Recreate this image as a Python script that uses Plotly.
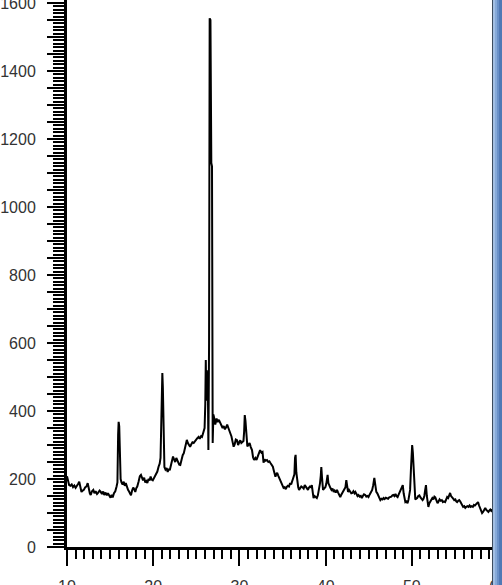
import plotly.graph_objects as go

# XRD pattern, 2-theta (deg) vs counts
two_theta = [
    10.00, 10.10, 10.25, 10.40, 10.55, 10.70, 10.85, 11.00, 11.15, 11.30, 11.42, 11.55, 11.68, 11.82, 11.95,
    12.10, 12.25, 12.40, 12.52, 12.65, 12.75, 12.90, 13.05, 13.18, 13.32, 13.48, 13.62, 13.78, 13.92,
    14.05, 14.20, 14.32, 14.48, 14.62, 14.75, 14.90, 15.05, 15.18, 15.30, 15.45, 15.60, 15.75, 15.85,
    15.93, 15.99, 16.06, 16.14, 16.22, 16.32, 16.45, 16.58, 16.70, 16.82, 16.95, 17.08, 17.20, 17.32,
    17.42, 17.55, 17.68, 17.80, 17.92, 18.05, 18.15, 18.30, 18.45, 18.58, 18.70, 18.82, 18.95, 19.08,
    19.20, 19.32, 19.45, 19.58, 19.70, 19.82, 19.95, 20.10, 20.22, 20.35, 20.48, 20.62, 20.75, 20.85,
    20.93, 21.00, 21.06, 21.12, 21.20, 21.30, 21.42, 21.55, 21.68, 21.80, 21.92, 22.05, 22.18, 22.30,
    22.42, 22.55, 22.68, 22.78, 22.90, 23.02, 23.14, 23.28, 23.42, 23.55, 23.65, 23.78, 23.90, 24.02,
    24.15, 24.28, 24.42, 24.55, 24.70, 24.85, 25.00, 25.12, 25.27, 25.40, 25.55, 25.66, 25.78, 25.88,
    25.96, 26.04, 26.10, 26.16, 26.22, 26.28, 26.34, 26.40, 26.48, 26.55, 26.64, 26.74, 26.82, 26.90,
    26.98, 27.08, 27.20, 27.35, 27.48, 27.62, 27.78, 27.92, 28.05, 28.18, 28.32, 28.45, 28.58, 28.72,
    28.85, 28.96, 29.08, 29.20, 29.33, 29.45, 29.58, 29.72, 29.85, 29.98, 30.10, 30.22, 30.35, 30.47,
    30.55, 30.62, 30.70, 30.80, 30.92, 31.05, 31.18, 31.32, 31.46, 31.58, 31.70, 31.85, 31.98, 32.12,
    32.25, 32.40, 32.55, 32.68, 32.80, 32.92, 33.05, 33.20, 33.35, 33.48, 33.60, 33.75, 33.88, 33.98,
    34.08, 34.18, 34.28, 34.38, 34.50, 34.62, 34.75, 34.88, 35.00, 35.12, 35.25, 35.38, 35.50, 35.62,
    35.75, 35.88, 36.00, 36.12, 36.25, 36.38, 36.45, 36.52, 36.60, 36.70, 36.82, 36.92, 37.05, 37.18,
    37.30, 37.45, 37.58, 37.70, 37.82, 37.95, 38.05, 38.18, 38.30, 38.40, 38.50, 38.60, 38.72, 38.85,
    38.98, 39.10, 39.22, 39.35, 39.44, 39.50, 39.58, 39.70, 39.82, 39.97, 40.08, 40.15, 40.23, 40.32,
    40.45, 40.55, 40.68, 40.80, 40.93, 41.05, 41.18, 41.32, 41.45, 41.58, 41.70, 41.82, 41.95, 42.06,
    42.18, 42.30, 42.40, 42.48, 42.60, 42.72, 42.85, 42.98, 43.10, 43.22, 43.35, 43.45, 43.58, 43.70,
    43.82, 43.95, 44.08, 44.20, 44.32, 44.45, 44.60, 44.72, 44.85, 44.97, 45.10, 45.25, 45.40, 45.52,
    45.65, 45.75, 45.88, 46.00, 46.12, 46.25, 46.35, 46.48, 46.60, 46.72, 46.85, 46.98, 47.12, 47.25,
    47.38, 47.50, 47.62, 47.75, 47.85, 47.98, 48.10, 48.22, 48.35, 48.48, 48.60, 48.72, 48.85, 48.95,
    49.05, 49.15, 49.25, 49.38, 49.50, 49.62, 49.72, 49.80, 49.90, 49.98, 50.04, 50.12, 50.22, 50.32,
    50.40, 50.52, 50.62, 50.75, 50.88, 51.00, 51.12, 51.25, 51.35, 51.45, 51.55, 51.64, 51.74, 51.84,
    51.92, 52.02, 52.12, 52.25, 52.38, 52.50, 52.62, 52.72, 52.85, 52.98, 53.10, 53.22, 53.35, 53.48,
    53.60, 53.72, 53.86, 53.98, 54.10, 54.22, 54.34, 54.44, 54.55, 54.68, 54.80, 54.92, 55.05, 55.15,
    55.25, 55.38, 55.50, 55.62, 55.75, 55.85, 55.95, 56.08, 56.20, 56.32, 56.45, 56.58, 56.70, 56.82,
    56.95, 57.08, 57.20, 57.32, 57.45, 57.55, 57.68, 57.80, 57.92, 58.05, 58.15, 58.28, 58.40, 58.52,
    58.62, 58.75, 58.88, 58.98, 59.10, 59.22, 59.32, 59.45,
]
intensity = [
    208, 196, 182, 180, 184, 176, 181, 174, 179, 186, 192, 172, 162, 166, 168,
    175, 178, 188, 172, 158, 153, 164, 168, 158, 164, 156, 160, 166, 162,
    156, 163, 153, 160, 152, 158, 150, 145, 153, 146, 158, 164, 178, 190,
    330, 368, 355, 260, 200, 190, 184, 192, 180, 188, 175, 168, 163, 156,
    152, 166, 175, 170, 162, 174, 178, 192, 208, 212, 200, 196, 204, 190,
    194, 188, 200, 196, 207, 198, 196, 204, 210, 214, 222, 236, 245, 262,
    360, 490, 512, 470, 300, 235, 228, 232, 221, 230, 226, 240, 252, 266,
    258, 250, 262, 256, 248, 242, 241, 258, 270, 276, 290, 302, 315, 306,
    300, 295, 302, 308, 306, 312, 316, 320, 324, 318, 326, 324, 334, 344,
    350, 420, 550, 430, 520, 440, 480, 285, 600, 1555, 1550, 1130, 1120, 306,
    390, 379, 360, 378, 368, 374, 366, 356, 350, 356, 346, 352, 360, 350,
    340, 338, 325, 310, 295, 302, 316, 314, 300, 308, 314, 306, 310, 312,
    340, 388, 372, 330, 296, 300, 306, 294, 285, 264, 256, 262, 256, 266,
    276, 285, 278, 280, 248, 258, 254, 256, 250, 252, 247, 240, 236, 226,
    215, 207, 214, 218, 210, 204, 197, 188, 180, 174, 176, 170, 177, 180,
    178, 188, 184, 192, 203, 214, 262, 271, 220, 197, 176, 168, 172, 178,
    176, 172, 182, 178, 172, 168, 174, 178, 176, 182, 162, 144, 150, 146,
    144, 152, 168, 188, 210, 235, 205, 168, 172, 176, 186, 200, 212, 188,
    178, 174, 168, 172, 162, 166, 160, 168, 160, 150, 147, 154, 160, 162,
    170, 176, 197, 186, 162, 168, 162, 158, 159, 164, 158, 162, 156, 150,
    153, 148, 150, 144, 150, 155, 153, 148, 150, 147, 154, 160, 168, 182,
    203, 185, 162, 158, 150, 144, 138, 142, 140, 144, 141, 145, 144, 142,
    146, 147, 148, 152, 153, 150, 156, 150, 147, 155, 162, 168, 176, 182,
    158, 135, 132, 134, 129, 140, 158, 168, 230, 290, 300, 278, 235, 175,
    140, 142, 144, 150, 152, 146, 140, 138, 142, 150, 168, 182, 150, 128,
    118, 128, 132, 138, 144, 140, 148, 146, 136, 129, 134, 140, 136, 138,
    132, 134, 132, 140, 147, 144, 152, 159, 150, 147, 142, 138, 140, 134,
    132, 136, 138, 134, 128, 124, 118, 120, 115, 118, 120, 118, 122, 118,
    120, 118, 124, 122, 126, 130, 132, 122, 115, 108, 100, 104, 112, 115,
    110, 106, 103, 107, 110, 106, 109, 108,
]

y_ticks = [0, 50, 100, 150, 200, 250, 300, 350, 400, 450, 500, 550, 600, 650, 700, 750, 800,
           850, 900, 950, 1000, 1050, 1100, 1150, 1200, 1250, 1300, 1350, 1400, 1450, 1500, 1550, 1600]
y_labels = ['0', '', '', '', '200', '', '', '', '400', '', '', '', '600', '', '', '', '800',
            '', '', '', '1000', '', '', '', '1200', '', '', '', '1400', '', '', '', '1600']

tick_font = dict(family='Liberation Sans, Arial, sans-serif', size=16, color='#333333')

fig = go.Figure()
fig.add_trace(go.Scatter(
    x=two_theta, y=intensity,
    mode='lines',
    line=dict(color='black', width=2),
    hoverinfo='x+y',
    showlegend=False,
))

fig.update_layout(
    width=502, height=585,
    margin=dict(l=67, r=0, t=0, b=38),
    plot_bgcolor='white', paper_bgcolor='white',
    showlegend=False,
    xaxis=dict(
        range=[10, 60.46], automargin=False,
        showline=True, linecolor='black', linewidth=2.5,
        showgrid=False, zeroline=False,
        tickmode='linear', tick0=10, dtick=10,
        ticks='outside', ticklen=16, tickwidth=2, tickcolor='black',
        minor=dict(ticks='outside', tick0=10, dtick=1, ticklen=9, tickwidth=1.5, tickcolor='black'),
        tickfont=tick_font, ticklabelstandoff=7, ticklabeloverflow='allow',
    ),
    # middle-length ticks every 5 degrees
    xaxis2=dict(
        overlaying='x', matches='x', anchor='y', side='bottom',
        showline=False, showgrid=False, zeroline=False, showticklabels=False,
        tickmode='linear', tick0=10, dtick=5,
        ticks='outside', ticklen=13, tickwidth=1.5, tickcolor='black',
    ),
    yaxis=dict(
        range=[0, 1609], automargin=False,
        showline=True, linecolor='black', linewidth=3,
        showgrid=False, zeroline=False,
        tickmode='array', tickvals=y_ticks, ticktext=y_labels,
        ticks='outside', ticklen=17, tickwidth=2, tickcolor='black',
        minor=dict(ticks='outside', tick0=0, dtick=10, ticklen=11, tickwidth=1.5, tickcolor='black'),
        tickfont=tick_font, ticklabelstandoff=8, ticklabeloverflow='allow',
    ),
)

# window frame on the right edge of the screenshot
frame = [(0.9770, 0.9793, '#3b4a5c'), (0.9793, 0.9839, '#a3bfe3'), (0.9839, 0.9885, '#86a9d8'),
         (0.9885, 0.9931, '#6a91c8'), (0.9931, 1.0, '#5079b5')]
for x0, x1, c in frame:
    fig.add_shape(type='rect', xref='paper', yref='paper', x0=x0, x1=x1, y0=-0.1, y1=1.05,
                  fillcolor=c, line=dict(width=0), layer='above')

# page body has an 8px margin by default, drop it so the figure sits at the corner
fig.write_html('out.html', config={'displayModeBar': False},
               post_script="document.body.style.margin='0';document.body.style.overflow='hidden';")
